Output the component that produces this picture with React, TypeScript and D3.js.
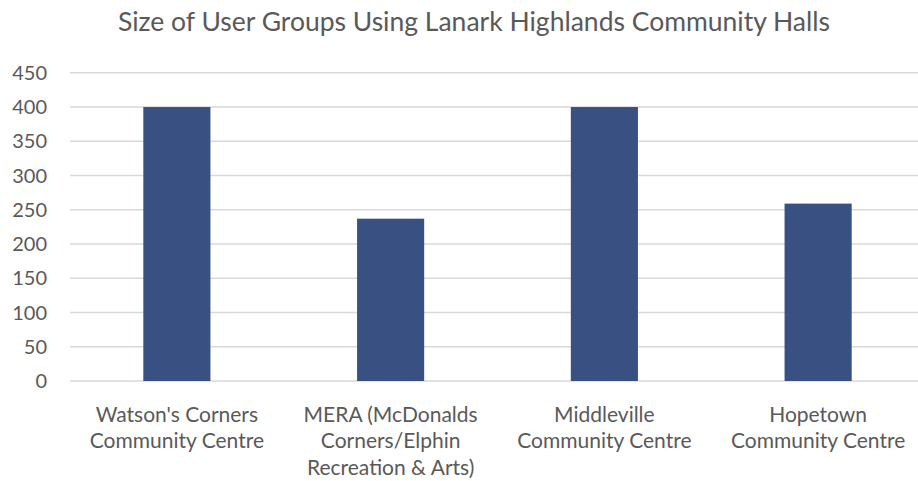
import React from "react";
import * as d3 from "d3";

const categories: string[][] = [
  ["Watson's Corners", "Community Centre"],
  ["MERA (McDonalds", "Corners/Elphin", "Recreation & Arts)"],
  ["Middleville", "Community Centre"],
  ["Hopetown", "Community Centre"],
];
const values: number[] = [400, 237, 400, 259];
const yTicks: number[] = [0, 50, 100, 150, 200, 250, 300, 350, 400, 450];
const title = "Size of User Groups Using Lanark Highlands Community Halls";

const W = 918;
const H = 481;
const left = 70;
const right = 925;
const top = 72.8;
const bottom = 381;
const font = "Lato, 'Open Sans', sans-serif";

export default function App() {
  const x = d3
    .scaleBand<number>()
    .domain(values.map((_, i) => i))
    .range([left, right])
    .padding(0);
  const y = d3.scaleLinear().domain([0, 450]).range([bottom, top]);
  const barW = x.bandwidth() * 0.314;

  return (
    <svg
      width={W}
      height={H}
      style={{ position: "absolute", left: 0, top: 0, background: "#fff" }}
    >
      <text
        x={474}
        y={31}
        textAnchor="middle"
        fontFamily={font}
        fontSize={26.5}
        fill="#595959"
      >
        {title}
      </text>
      {yTicks.map((t) => (
        <g key={t}>
          <line
            x1={left}
            x2={W}
            y1={y(t)}
            y2={y(t)}
            stroke="#d9d9d9"
            strokeWidth={1.5}
          />
          <text
            x={47}
            y={y(t)}
            dy="0.36em"
            textAnchor="end"
            fontFamily={font}
            fontSize={20}
            fill="#595959"
          >
            {t}
          </text>
        </g>
      ))}
      {values.map((v, i) => {
        const cx = (x(i) as number) + x.bandwidth() / 2;
        return (
          <rect
            key={i}
            x={cx - barW / 2}
            y={y(v)}
            width={barW}
            height={y(0) - y(v)}
            fill="#385082"
          />
        );
      })}
      {categories.map((lines, i) => {
        const cx = (x(i) as number) + x.bandwidth() / 2;
        return (
          <text
            key={i}
            textAnchor="middle"
            fontFamily={font}
            fontSize={21}
            fill="#595959"
          >
            {lines.map((l, j) => (
              <tspan key={j} x={cx} y={421.5 + j * 26.8}>
                {l}
              </tspan>
            ))}
          </text>
        );
      })}
    </svg>
  );
}
